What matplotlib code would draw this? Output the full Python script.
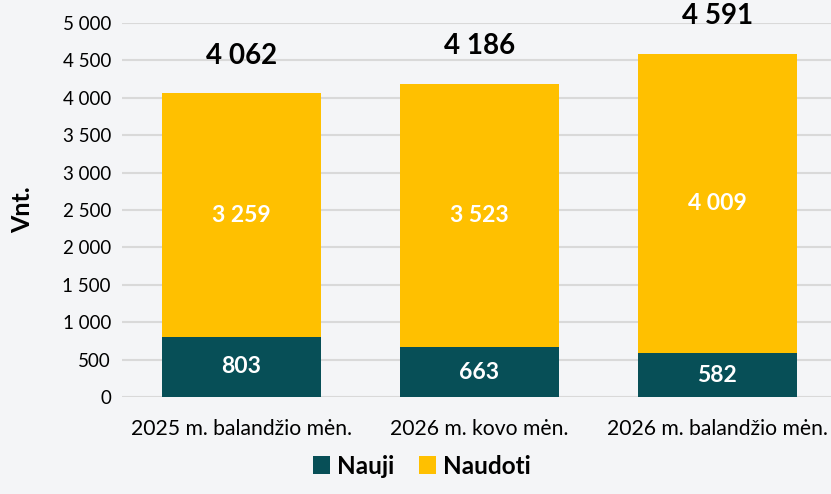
import matplotlib.pyplot as plt
from matplotlib.ticker import FuncFormatter

# data
categories = ["2025 m. balandžio mėn.", "2026 m. kovo mėn.", "2026 m. balandžio mėn."]
nauji = [803, 663, 582]
naudoti = [3259, 3523, 4009]
totals = [4062, 4186, 4591]

teal = "#074F57"
gold = "#FFC000"
bg = "#F4F5F7"

plt.rcParams['font.family'] = ['Lato', 'DejaVu Sans']

def fmt(v):
    return f"{int(v):,}".replace(",", " ")

fig = plt.figure(figsize=(8.31, 4.94), dpi=100, facecolor=bg)
ax = fig.add_axes([122/831, 1-397/494, (831-122)/831, (397-23)/494], facecolor=bg)

x = list(range(len(categories)))
b1 = ax.bar(x, nauji, width=0.668, color=teal, label="Nauji", zorder=3)
b2 = ax.bar(x, naudoti, width=0.668, bottom=nauji, color=gold, label="Naudoti", zorder=3)

for i in x:
    ax.text(i, nauji[i] / 2, fmt(nauji[i]), ha='center', va='center',
            color='white', fontsize=16.5, fontweight='bold', zorder=4)
    ax.text(i, nauji[i] + naudoti[i] / 2, fmt(naudoti[i]), ha='center', va='center',
            color='white', fontsize=16.5, fontweight='bold', zorder=4)
    ax.annotate(fmt(totals[i]), (i, nauji[i] + naudoti[i]), xytext=(0, 27),
                textcoords='offset points', ha='center', va='center',
                fontsize=20, fontweight='bold', color='black')

ax.set_ylim(0, 5000)
ax.set_xlim(-0.5, 2.5 - 5.5/238)
ax.set_yticks(range(0, 5001, 500))
ax.yaxis.set_major_formatter(FuncFormatter(lambda v, p: fmt(v)))
ax.set_xticks(x)
ax.set_xticklabels(categories)
ax.tick_params(axis='both', length=0)
ax.tick_params(axis='x', pad=16, labelsize=15.2)
ax.tick_params(axis='y', pad=8, labelsize=13.5)
ax.grid(axis='y', color='#D9D9D9', linewidth=1.5, zorder=0)
ax.set_axisbelow(True)
for s in ax.spines.values():
    s.set_visible(False)

ax.set_ylabel("Vnt.", fontsize=18, fontweight='bold', labelpad=20)

leg = fig.legend(handles=[b1, b2], loc='center', bbox_to_anchor=(422/831, 1-466/494),
                 ncol=2, frameon=False, handlelength=0.7, handleheight=0.7,
                 handletextpad=0.3, columnspacing=1.0,
                 prop={'size': 17.5, 'weight': 'bold'})

fig.savefig("out.png", dpi=100, facecolor=bg)
